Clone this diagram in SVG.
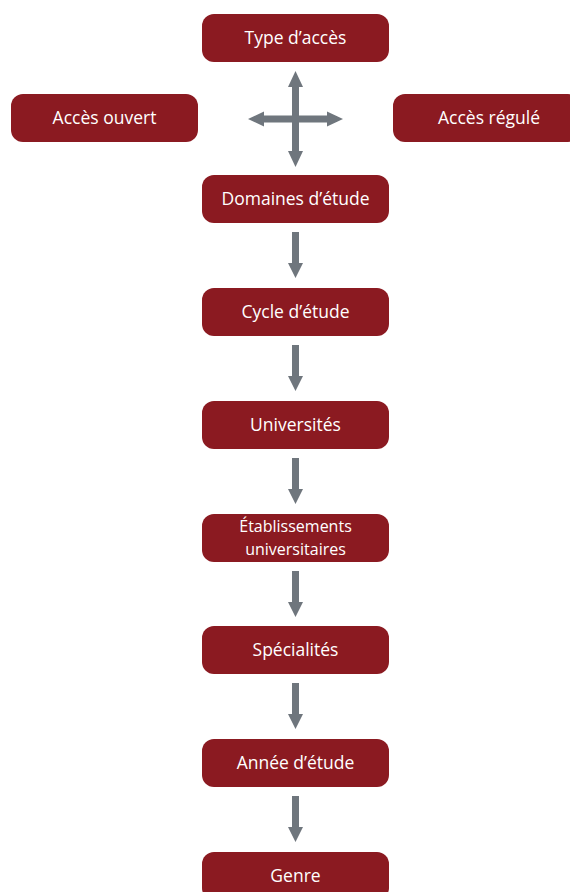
<svg xmlns="http://www.w3.org/2000/svg" width="570" height="892" viewBox="0 0 570 892">
<defs>
<style>
.box{fill:#8B1A21;}
.lbl{fill:#ffffff;font-family:"Open Sans","Noto Sans",sans-serif;font-size:17.5px;text-anchor:middle;}
.two{font-size:16px;}
.arr{fill:#6F767D;}
</style>
<path id="down" class="arr" d="M-3.5,0 H3.5 V31 H7.5 L0,46 L-7.5,31 H-3.5 Z"/>
</defs>
<rect width="570" height="892" fill="#ffffff"/>
<g id="type-acces"><rect class="box" x="202" y="14" width="187" height="48" rx="12"/><text class="lbl" x="295.5" y="44">Type d’accès</text></g>
<g id="acces-ouvert"><rect class="box" x="11" y="94" width="187" height="48" rx="12"/><text class="lbl" x="104.5" y="124">Accès ouvert</text></g>
<g id="acces-regule"><rect class="box" x="393" y="94" width="187" height="48" rx="12"/><text class="lbl" x="489" y="124">Accès régulé</text></g>
<g id="domaines"><rect class="box" x="202" y="175" width="187" height="48" rx="12"/><text class="lbl" x="295.5" y="205">Domaines d’étude</text></g>
<g id="cycle"><rect class="box" x="202" y="288" width="187" height="48" rx="12"/><text class="lbl" x="295.5" y="318">Cycle d’étude</text></g>
<g id="universites"><rect class="box" x="202" y="401" width="187" height="48" rx="12"/><text class="lbl" x="295.5" y="431">Universités</text></g>
<g id="etablissements"><rect class="box" x="202" y="514" width="187" height="48" rx="12"/><text class="lbl two" x="295.5" y="532">Établissements</text><text class="lbl two" x="295.5" y="554.5">universitaires</text></g>
<g id="specialites"><rect class="box" x="202" y="626" width="187" height="48" rx="12"/><text class="lbl" x="295.5" y="656">Spécialités</text></g>
<g id="annee"><rect class="box" x="202" y="739" width="187" height="48" rx="12"/><text class="lbl" x="295.5" y="769">Année d’étude</text></g>
<g id="genre"><rect class="box" x="202" y="852" width="187" height="48" rx="12"/><text class="lbl" x="295.5" y="882">Genre</text></g>
<g id="connectors">
<path class="arr" d="M295.5,71 L303,87 H299 V115.5 H327 V111.5 L343,119 L327,126.5 V122.5 H299 V151 H303 L295.5,167 L288,151 H292 V122.5 H264 V126.5 L248,119 L264,111.5 V115.5 H292 V87 H288 Z"/>
<use href="#down" x="295.5" y="232"/>
<use href="#down" x="295.5" y="345"/>
<use href="#down" x="295.5" y="458"/>
<use href="#down" x="295.5" y="571"/>
<use href="#down" x="295.5" y="683"/>
<use href="#down" x="295.5" y="796"/>
</g>
</svg>
